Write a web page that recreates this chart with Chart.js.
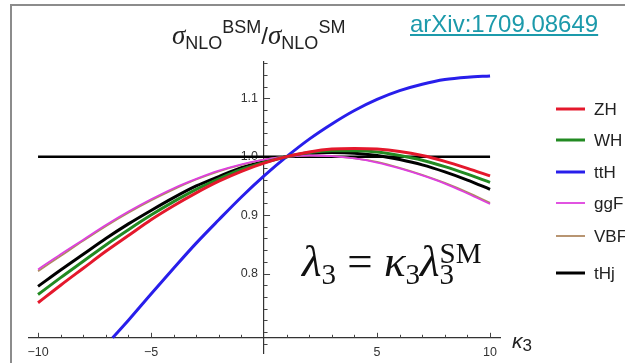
<!DOCTYPE html>
<html>
<head>
<meta charset="utf-8">
<script src="https://cdn.jsdelivr.net/npm/chart.js@4.4.1/dist/chart.umd.min.js"></script>
<style>
  html, body { margin: 0; padding: 0; background: #fff; }
  #wrap { position: relative; width: 625px; height: 363px; overflow: hidden; font-family: "Liberation Sans", Arial, sans-serif; }
  #frame { position: absolute; left: 10px; top: 4px; width: 700px; height: 400px; border-left: 2px solid #8c8c8c; border-top: 2px solid #8c8c8c; }
  #chart { position: absolute; left: 0; top: 0; }
  #title { position: absolute; left: 172px; top: 20px; font-size: 27px; line-height: 30px; color: #222; white-space: nowrap; }
  #title .s { font-family: "Liberation Serif", serif; font-style: italic; }
  #title .lo { font-size: 18px; position: relative; top: 5px; }
  #title .hi { font-size: 18px; position: relative; top: -11px; }
  #title .sl { font-size: 24px; }
  #arxiv { position: absolute; left: 410px; top: 12px; font-size: 24px; line-height: 24px; color: #1c9aab; text-decoration: underline; white-space: nowrap; }
  #formula { position: absolute; left: 302px; top: 239px; font-family: "Liberation Serif", serif; font-size: 45px; line-height: 45px; color: #111; white-space: nowrap; }
  #formula i { font-style: italic; }
  #formula .lo { font-size: 29px; position: relative; top: 8px; }
  #formula .hi { font-size: 29px; position: relative; top: -13px; margin-left: -14.5px; }
  #xlab { position: absolute; left: 512px; top: 330px; font-size: 21px; line-height: 21px; color: #222; white-space: nowrap; }
  #xlab i { font-style: italic; }
  #xlab span { font-size: 17px; position: relative; top: 3px; }
</style>
</head>
<body>
<div id="wrap">
  <div id="frame"></div>
  <canvas id="chart" width="625" height="363"></canvas>
  <div id="title"><span class="s">σ</span><span class="lo">NLO</span><span class="hi">BSM</span><span class="sl">/</span><span class="s">σ</span><span class="lo">NLO</span><span class="hi">SM</span></div>
  <div id="arxiv">arXiv:1709.08649</div>
  <div id="formula"><i>λ</i><span class="lo">3</span> = <i>κ</i><span class="lo">3</span><i>λ</i><span class="lo">3</span><span class="hi">SM</span></div>
  <div id="xlab"><i>κ</i><span>3</span></div>
</div>
<script>
// kappa_3 grid and cross-section ratios sigma_NLO^BSM / sigma_NLO^SM
const kappa = [-10, -9, -8, -7, -6, -5, -4, -3, -2, -1, 0, 1, 2, 3, 4, 5, 6, 7, 8, 9, 10];
const zhRatio  = [0.750, 0.780, 0.809, 0.838, 0.865, 0.892, 0.916, 0.938, 0.958, 0.975, 0.989, 1.000, 1.008, 1.013, 1.014, 1.013, 1.009, 1.002, 0.992, 0.980, 0.967];
const whRatio  = [0.764, 0.793, 0.821, 0.849, 0.875, 0.900, 0.923, 0.944, 0.962, 0.978, 0.990, 1.000, 1.007, 1.010, 1.010, 1.008, 1.002, 0.994, 0.983, 0.970, 0.956];
const tHjRatio = [0.778, 0.806, 0.833, 0.860, 0.885, 0.908, 0.930, 0.950, 0.966, 0.981, 0.992, 1.000, 1.005, 1.007, 1.006, 1.002, 0.995, 0.986, 0.974, 0.960, 0.944];
const ggFRatio = [0.807, 0.833, 0.858, 0.883, 0.906, 0.927, 0.946, 0.962, 0.976, 0.987, 0.995, 1.000, 1.002, 1.001, 0.997, 0.990, 0.980, 0.968, 0.954, 0.937, 0.919];
const vbfRatio = [0.804, 0.830, 0.856, 0.881, 0.904, 0.925, 0.944, 0.961, 0.975, 0.986, 0.995, 1.000, 1.002, 1.001, 0.997, 0.991, 0.981, 0.969, 0.955, 0.939, 0.921];
// ttH leaves the plot through the horizontal axis
const ttHKappa = [-6.7, -6, -5, -4, -3, -2, -1, 0, 1, 2, 3, 4, 5, 6, 7, 8, 9, 10];
const ttHRatio = [0.690, 0.720, 0.765, 0.809, 0.852, 0.892, 0.931, 0.967, 1.000, 1.030, 1.056, 1.079, 1.098, 1.113, 1.124, 1.132, 1.136, 1.138];
// Standard Model reference line
const smKappa = [-10, 10];
const smRatio = [1, 1];

const processNames = ['ZH', 'WH', 'ttH', 'ggF', 'VBF', 'tHj'];
const xTickValues = [-10, -5, 5, 10];
const yTickValues = [0.8, 0.9, 1.0, 1.1];
const xMinorTicks = [-10, -9, -8, -7, -6, -5, -4, -3, -2, -1, 1, 2, 3, 4, 5, 6, 7, 8, 9, 10];
const yMinorTicks = [0.68, 0.70, 0.72, 0.74, 0.76, 0.78, 0.80, 0.82, 0.84, 0.86, 0.88, 0.90, 0.92, 0.94, 0.96, 0.98, 1.00, 1.02, 1.04, 1.06, 1.08, 1.10, 1.12, 1.14, 1.16];
const axisCrossY = 0.69;

const pts = (xs, ys) => xs.map((x, i) => ({ x: x, y: ys[i] }));

const styles = {
  ZH:  { color: 'rgb(228,24,44)',   width: 3 },
  WH:  { color: 'rgb(34,138,34)',   width: 3 },
  ttH: { color: 'rgb(40,30,235)',   width: 3 },
  ggF: { color: 'rgb(222,64,222)',  width: 1.8 },
  VBF: { color: 'rgb(176,138,98)',  width: 1.8 },
  tHj: { color: 'rgb(0,0,0)',       width: 3 }
};
const seriesData = {
  ZH: pts(kappa, zhRatio),
  WH: pts(kappa, whRatio),
  ttH: pts(ttHKappa, ttHRatio),
  ggF: pts(kappa, ggFRatio),
  VBF: pts(kappa, vbfRatio),
  tHj: pts(kappa, tHjRatio)
};

const datasets = processNames.map(name => ({
  label: name,
  data: seriesData[name],
  borderColor: styles[name].color,
  borderWidth: styles[name].width,
  pointRadius: 0,
  fill: false,
  cubicInterpolationMode: 'monotone'
}));
datasets.push({
  label: 'SM',
  data: pts(smKappa, smRatio),
  borderColor: '#000',
  borderWidth: 2.5,
  pointRadius: 0,
  fill: false
});

const tickFont = '12.5px "Liberation Sans", Arial, sans-serif';

// Inward tick marks and y labels, Mathematica style
const axisDecor = {
  id: 'axisDecor',
  beforeDatasetsDraw(chart) {
    const { ctx, scales: { x, y } } = chart;
    const x0 = x.getPixelForValue(0);
    const y0 = y.getPixelForValue(axisCrossY);
    ctx.save();
    ctx.strokeStyle = '#444';
    ctx.lineWidth = 1;
    xMinorTicks.forEach(k => {
      const px = Math.round(x.getPixelForValue(k)) + 0.5;
      const len = (k % 5 === 0) ? 5 : 3;
      ctx.beginPath(); ctx.moveTo(px, y0); ctx.lineTo(px, y0 - len); ctx.stroke();
    });
    yMinorTicks.forEach(v => {
      const py = Math.round(y.getPixelForValue(v)) + 0.5;
      const major = yTickValues.some(t => Math.abs(t - v) < 1e-6);
      const len = major ? 6 : 3.5;
      ctx.beginPath(); ctx.moveTo(x0, py); ctx.lineTo(x0 + len, py); ctx.stroke();
    });
    ctx.font = tickFont;
    ctx.fillStyle = '#333';
    ctx.textAlign = 'right';
    ctx.textBaseline = 'middle';
    yTickValues.forEach(v => ctx.fillText(v.toFixed(1), x0 - 6, y.getPixelForValue(v)));
    ctx.restore();
  },
  afterDraw(chart) {
    // legend at the right edge
    const { ctx } = chart;
    const rowY = [109, 140, 172, 203, 236, 273];
    ctx.save();
    ctx.font = '17px "Liberation Sans", Arial, sans-serif';
    ctx.textBaseline = 'middle';
    ctx.textAlign = 'left';
    processNames.forEach((name, i) => {
      ctx.strokeStyle = styles[name].color;
      ctx.lineWidth = styles[name].width;
      ctx.beginPath(); ctx.moveTo(556, rowY[i]); ctx.lineTo(585, rowY[i]); ctx.stroke();
      ctx.fillStyle = '#222';
      ctx.fillText(name, 594, rowY[i] + 1);
    });
    ctx.restore();
  }
};

new Chart(document.getElementById('chart'), {
  type: 'line',
  data: { datasets: datasets },
  options: {
    responsive: false,
    animation: false,
    events: [],
    layout: { padding: { left: 29, right: 125, top: 62, bottom: 10 } },
    plugins: { legend: { display: false }, tooltip: { enabled: false }, title: { display: false } },
    scales: {
      x: {
        type: 'linear',
        min: -10.4,
        max: 10.44,
        position: { y: axisCrossY },
        grid: { display: false, drawTicks: false },
        border: { display: true, color: '#333', width: 1.2 },
        afterBuildTicks: s => { s.ticks = xTickValues.map(v => ({ value: v })); },
        ticks: {
          padding: 7,
          color: '#333',
          font: { family: '"Liberation Sans", Arial, sans-serif', size: 12.5 },
          maxRotation: 0,
          callback: v => (v < 0 ? '\u2212' + Math.abs(v) : String(v))
        }
      },
      y: {
        type: 'linear',
        min: 0.664,
        max: 1.162,
        position: { x: 0 },
        grid: { display: false, drawTicks: false },
        border: { display: true, color: '#333', width: 1.2 },
        ticks: { display: false }
      }
    }
  },
  plugins: [axisDecor]
});
</script>
</body>
</html>
